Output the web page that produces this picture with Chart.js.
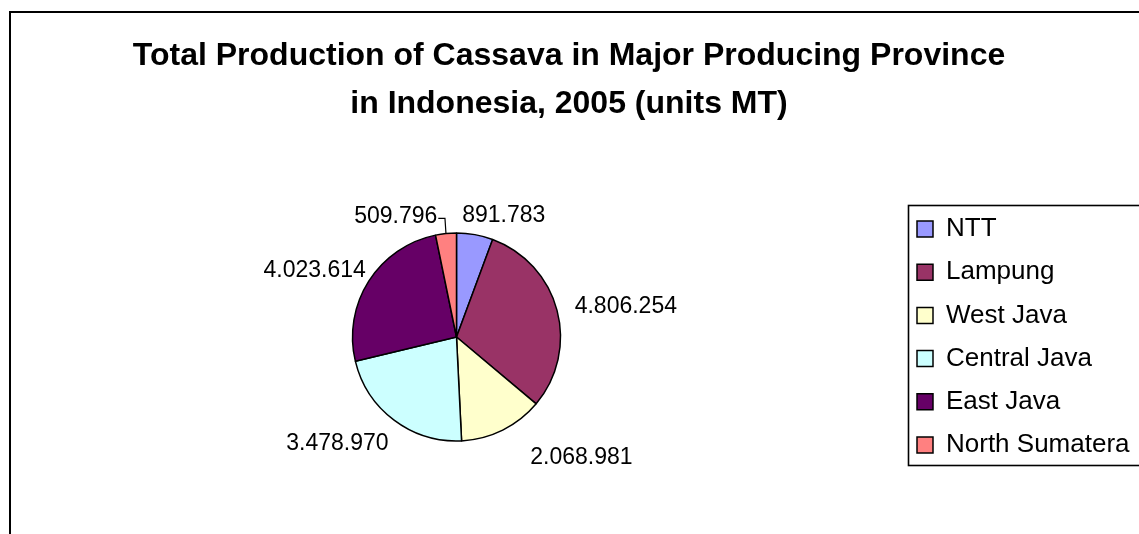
<!DOCTYPE html>
<html>
<head>
<meta charset="utf-8">
<script src="https://cdn.jsdelivr.net/npm/chart.js@4.4.1/dist/chart.umd.min.js"></script>
<style>
  html, body { margin: 0; padding: 0; background: #fff; overflow: hidden; }
  #wrap { width: 1139px; height: 534px; }
</style>
</head>
<body>
<div id="wrap"><canvas id="chart"></canvas></div>
<script>
const provinces = ['NTT', 'Lampung', 'West Java', 'Central Java', 'East Java', 'North Sumatera'];
const production = [891783, 4806254, 2068981, 3478970, 4023614, 509796];
const sliceColors = ['#9999FF', '#993366', '#FFFFCC', '#CCFFFF', '#660066', '#FF8080'];
const titleLines = ['Total Production of Cassava in Major Producing Province', 'in Indonesia, 2005 (units MT)'];

const FONT = "'Liberation Sans', Arial, sans-serif";

// 4806254 -> 4.806.254
function fmt(v) {
    return String(v).replace(/\B(?=(\d{3})+(?!\d))/g, '.');
}

// value labels outside each slice, placed from the arc's mid angle
const sliceLabels = {
    id: 'sliceLabels',
    afterDatasetsDraw(chart, args, opts) {
        const ctx = chart.ctx;
        const meta = chart.getDatasetMeta(0);
        const values = chart.data.datasets[0].data;
        ctx.save();
        ctx.font = opts.size + 'px ' + FONT;
        ctx.fillStyle = '#000';
        ctx.textAlign = 'center';
        ctx.textBaseline = 'middle';
        meta.data.forEach((arc, i) => {
            const p = arc.getProps(['x', 'y', 'startAngle', 'endAngle', 'outerRadius'], true);
            const mid = (p.startAngle + p.endAngle) / 2;
            const c = Math.cos(mid), s = Math.sin(mid);
            const text = fmt(values[i]);
            const w = ctx.measureText(text).width;
            const h = opts.size * 0.72;
            const r = p.outerRadius + opts.gap;
            const shift = opts.shift[i] || [0, 0];
            const tx = p.x + c * (r + w / 2) + shift[0];
            const ty = p.y + s * (r + h / 2) + shift[1];
            ctx.fillText(text, tx, ty);
            if (opts.leader[i]) {
                const ex = p.x + c * p.outerRadius;
                const ey = p.y + s * p.outerRadius;
                ctx.beginPath();
                ctx.moveTo(tx + w / 2 + 1, ty + 2);
                ctx.lineTo(ex - 1, ty + 2);
                ctx.lineTo(ex, ey);
                ctx.strokeStyle = '#000';
                ctx.lineWidth = 1.2;
                ctx.stroke();
            }
        });
        ctx.restore();
    }
};

// outer chart border, legend frame, legend placement
const frames = {
    id: 'frames',
    afterLayout(chart, args, opts) {
        const lg = chart.legend;
        lg.left = opts.legendLeft;
        lg.top = opts.legendTop;
        lg.bottom = chart.height;
    },
    beforeDraw(chart) {
        const ctx = chart.ctx;
        ctx.save();
        ctx.strokeStyle = '#000';
        ctx.lineWidth = 2;
        ctx.strokeRect(10, 12, chart.width + 40, chart.height + 40);
        ctx.lineWidth = 1.6;
        ctx.strokeRect(908.5, 205.5, 260, 260);
        ctx.restore();
    }
};

new Chart(document.getElementById('chart'), {
    type: 'pie',
    data: {
        labels: provinces,
        datasets: [{
            data: production,
            backgroundColor: sliceColors,
            borderColor: '#000',
            borderWidth: 1.5,
            radius: 104,
            hoverOffset: 0
        }]
    },
    options: {
        responsive: true,
        maintainAspectRatio: false,
        animation: false,
        layout: { padding: { left: 0, right: 1, top: 0, bottom: 0 } },
        plugins: {
            title: {
                display: true,
                text: titleLines,
                color: '#000',
                font: { family: FONT, size: 32, weight: 'bold', lineHeight: 48 / 32 },
                padding: { top: 32, bottom: 12 }
            },
            legend: {
                position: 'right',
                align: 'start',
                maxWidth: 225,
                labels: {
                    color: '#000',
                    font: { family: FONT, size: 26 },
                    boxWidth: 16,
                    boxHeight: 16,
                    padding: 17.2
                }
            },
            tooltip: { enabled: false },
            sliceLabels: {
                size: 23,
                gap: 20,
                shift: [[18, 9], [0, 4], [47, 2], [-14, 1], [6, 5], [-44, 11]],
                leader: [false, false, false, false, false, true]
            },
            frames: { legendLeft: 899.8, legendTop: 198.8 }
        }
    },
    plugins: [sliceLabels, frames]
});
</script>
</body>
</html>
